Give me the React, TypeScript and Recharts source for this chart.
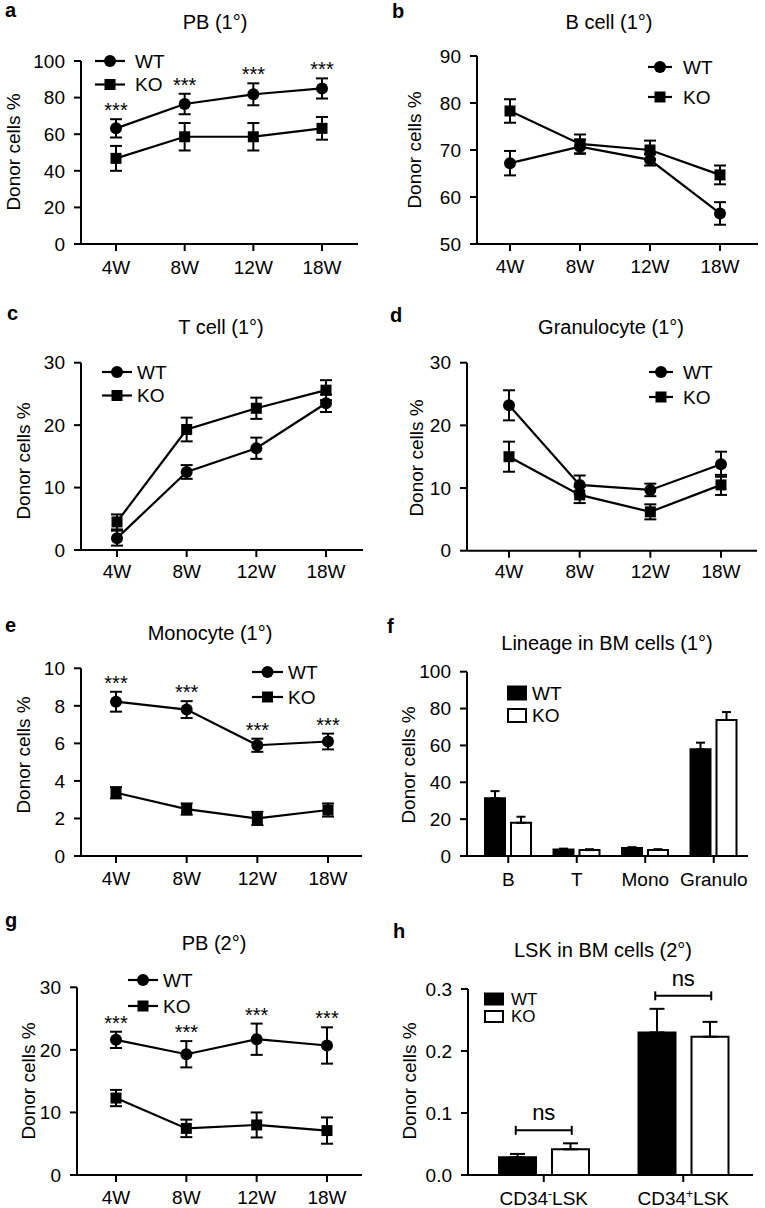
import React from 'react';
import { ComposedChart, Line, Bar, XAxis, YAxis, ErrorBar, Legend } from 'recharts';

const FONT = '"Liberation Sans", Arial, Helvetica, sans-serif';
const INK = '#000';

// ---------------- data ----------------
const groups = ['WT', 'KO'];
const weeks = ['4W', '8W', '12W', '18W'];

const pb1WT = [63.2, 76.5, 81.8, 85.0];
const pb1WTErr = [5.0, 5.6, 6.0, 5.5];
const pb1KO = [46.8, 58.6, 58.6, 63.2];
const pb1KOErr = [6.8, 7.5, 7.5, 6.2];
const pb1Sig = ['***', '***', '***', '***'];

const bcellWT = [67.2, 70.7, 67.9, 56.5];
const bcellWTErr = [2.6, 1.5, 1.2, 2.4];
const bcellKO = [78.3, 71.3, 70.0, 64.7];
const bcellKOErr = [2.5, 2.0, 2.0, 2.0];

const tcellWT = [1.9, 12.5, 16.3, 23.5];
const tcellWTErr = [1.2, 1.1, 1.7, 1.4];
const tcellKO = [4.5, 19.3, 22.7, 25.6];
const tcellKOErr = [1.2, 1.9, 1.7, 1.6];

const granWT = [23.2, 10.5, 9.7, 13.8];
const granWTErr = [2.4, 1.5, 1.0, 2.0];
const granKO = [15.0, 8.9, 6.2, 10.5];
const granKOErr = [2.4, 1.3, 1.2, 1.6];

const monoWT = [8.22, 7.8, 5.9, 6.1];
const monoWTErr = [0.53, 0.45, 0.35, 0.42];
const monoKO = [3.37, 2.5, 2.0, 2.45];
const monoKOErr = [0.3, 0.3, 0.35, 0.35];
const monoSig = ['***', '***', '***', '***'];

const lineages = ['B', 'T', 'Mono', 'Granulo'];
const bmWT = [31.3, 3.5, 4.3, 57.9];
const bmWTErr = [3.9, 0.5, 0.5, 3.6];
const bmKO = [18.0, 3.2, 3.3, 73.8];
const bmKOErr = [3.3, 0.5, 0.4, 4.3];

const pb2WT = [21.6, 19.3, 21.7, 20.7];
const pb2WTErr = [1.3, 2.1, 2.5, 2.9];
const pb2KO = [12.3, 7.45, 8.0, 7.1];
const pb2KOErr = [1.3, 1.4, 2.0, 2.1];
const pb2Sig = ['***', '***', '***', '***'];

const lskTypes = ['CD34-LSK', 'CD34+LSK'];
const lskWT = [0.0285, 0.23];
const lskWTErr = [0.0055, 0.038];
const lskKO = [0.0414, 0.223];
const lskKOErr = [0.0097, 0.024];
const lskSig = ['ns', 'ns'];

const yTicks100 = [0, 20, 40, 60, 80, 100];
const yTicksB = [50, 60, 70, 80, 90];
const yTicks30 = [0, 10, 20, 30];
const yTicks10 = [0, 2, 4, 6, 8, 10];
const yTicksLsk = [0, 0.1, 0.2, 0.3];

const yLabelText = 'Donor cells %';
const titles = [
  { text: 'PB (1°)', x: 215, y: 29 },
  { text: 'B cell (1°)', x: 609, y: 29 },
  { text: 'T cell (1°)', x: 221, y: 334 },
  { text: 'Granulocyte (1°)', x: 611, y: 334 },
  { text: 'Monocyte (1°)', x: 210, y: 640 },
  { text: 'Lineage in BM cells (1°)', x: 607, y: 650 },
  { text: 'PB (2°)', x: 214, y: 950 },
  { text: 'LSK in BM cells (2°)', x: 603, y: 957 },
];
const letters = [
  { text: 'a', x: 5, y: 17 },
  { text: 'b', x: 392, y: 18 },
  { text: 'c', x: 7, y: 320 },
  { text: 'd', x: 390, y: 322 },
  { text: 'e', x: 5, y: 632 },
  { text: 'f', x: 387, y: 633 },
  { text: 'g', x: 5, y: 927 },
  { text: 'h', x: 393, y: 938 },
];
const yLabels = [
  { x: 20, y: 152 },
  { x: 421, y: 150 },
  { x: 30, y: 461 },
  { x: 423, y: 458 },
  { x: 30, y: 755 },
  { x: 415, y: 765 },
  { x: 35, y: 1081 },
  { x: 416, y: 1081 },
];

// ---------------- rows ----------------
function lineRows(cats: string[], wt: number[], wtErr: number[], ko: number[], koErr: number[], sig?: string[]) {
  return cats.map((cat, i) => ({
    cat,
    wt: wt[i],
    wtErr: wtErr[i],
    ko: ko[i],
    koErr: koErr[i],
    sig: sig ? sig[i] : null,
    sigY: sig && sig[i] ? wt[i] + wtErr[i] : null,
  }));
}
function barRows(cats: string[], wt: number[], wtErr: number[], ko: number[], koErr: number[], sig?: string[]) {
  return cats.map((cat, i) => ({
    cat,
    wt: wt[i],
    ko: ko[i],
    wtErrUp: [0, wtErr[i]],
    koErrUp: [0, koErr[i]],
    sig: sig ? sig[i] : null,
    sigY: sig && sig[i] ? Math.max(wt[i] + wtErr[i], ko[i] + koErr[i]) : null,
  }));
}

// ---------------- layout ----------------
const Y_W = 50;
const X_H = 30;
const axisStyle = { stroke: INK, strokeWidth: 2 };
const tickStyle = { fill: INK, fontSize: 19, fontFamily: FONT };

const cfgA = { cell: { x: 0, y: 0, w: 380, h: 298 }, plot: { x0: 81, x1: 358, yTop: 61, yBot: 244 }, pad: { left: 35, right: 36 }, domain: [0, 100], ticks: yTicks100, xTickMargin: 10, legend: { x: 95, y: 61, rowGap: 23.5, lineLen: 30, textX: 40, fontSize: 19 } };
const cfgB = { cell: { x: 380, y: 0, w: 385, h: 298 }, plot: { x0: 477, x1: 758, yTop: 56, yBot: 244 }, pad: { left: 33, right: 38 }, domain: [50, 90], ticks: yTicksB, xTickMargin: 9, legend: { x: 648, y: 67, rowGap: 30, lineLen: 24, textX: 35, fontSize: 19 } };
const cfgC = { cell: { x: 0, y: 298, w: 380, h: 300 }, plot: { x0: 81, x1: 363, yTop: 362.7, yBot: 550 }, pad: { left: 36, right: 37 }, domain: [0, 30], ticks: yTicks30, xTickMargin: 8, legend: { x: 102, y: 372, rowGap: 23.5, lineLen: 30, textX: 35, fontSize: 19 } };
const cfgD = { cell: { x: 380, y: 298, w: 385, h: 300 }, plot: { x0: 467, x1: 757, yTop: 362.7, yBot: 550.7 }, pad: { left: 42, right: 36 }, domain: [0, 30], ticks: yTicks30, xTickMargin: 7, legend: { x: 649, y: 372, rowGap: 25, lineLen: 24, textX: 34, fontSize: 19 } };
const cfgE = { cell: { x: 0, y: 598, w: 380, h: 300 }, plot: { x0: 81, x1: 362, yTop: 668.3, yBot: 856 }, pad: { left: 35, right: 34 }, domain: [0, 10], ticks: yTicks10, xTickMargin: 9, legend: { x: 252, y: 672, rowGap: 25, lineLen: 31, textX: 36, fontSize: 19 } };
const cfgF = { cell: { x: 380, y: 598, w: 385, h: 300 }, plot: { x0: 467, x1: 748, yTop: 671.7, yBot: 856 }, pad: { left: 7, right: 0 }, domain: [0, 100], ticks: yTicks100, xTickMargin: 10, barSize: 20, barGap: 6, cap: 4.5, legend: { x: 507, y: 692.5, rowGap: 22.5, boxW: 20, boxH: 13, textX: 25, fontSize: 19 } };
const cfgG = { cell: { x: 0, y: 898, w: 380, h: 310 }, plot: { x0: 77, x1: 362, yTop: 987.3, yBot: 1175 }, pad: { left: 39, right: 35 }, domain: [0, 30], ticks: yTicks30, xTickMargin: 9, legend: { x: 128, y: 980, rowGap: 26, lineLen: 30, textX: 35, fontSize: 19 } };
const cfgH = { cell: { x: 380, y: 898, w: 385, h: 310 }, plot: { x0: 468, x1: 753, yTop: 989, yBot: 1175 }, pad: { left: 6, right: 0 }, domain: [0, 0.3], ticks: yTicksLsk, xTickMargin: 10, barSize: 37, barGap: 16, cap: 7.5, legend: { x: 484, y: 999, rowGap: 17.5, boxW: 20, boxH: 11, textX: 27, fontSize: 17 } };

function marginOf(cfg: any) {
  const { cell, plot } = cfg;
  return {
    top: plot.yTop - cell.y,
    left: plot.x0 - cell.x - Y_W,
    right: cell.x + cell.w - plot.x1,
    bottom: cell.y + cell.h - plot.yBot - X_H,
  };
}

function orderItems(payload: any[]) {
  return (payload || [])
    .filter((e: any) => e.type !== 'none' && groups.indexOf(String(e.value)) >= 0)
    .sort((a: any, b: any) => groups.indexOf(String(a.value)) - groups.indexOf(String(b.value)));
}

// ---------------- marks ----------------
const SquareDot = (p: any) => {
  const { cx, cy, index } = p;
  if (cx == null || cy == null) return <g key={`sq-${index}`} />;
  return <rect key={`sq-${index}`} x={cx - 5.5} y={cy - 5.5} width={11} height={11} fill={INK} />;
};

const StarDot = (p: any) => {
  const { cx, cy, index, payload } = p;
  if (cx == null || cy == null || !payload || !payload.sig) return <g key={`st-${index}`} />;
  return (
    <text key={`st-${index}`} x={cx} y={cy - 2} textAnchor="middle" fontSize={20} fontFamily={FONT} fill={INK}>
      {payload.sig}
    </text>
  );
};

const BracketDot = (p: any) => {
  const { cx, cy, index, payload } = p;
  if (cx == null || cy == null || !payload || !payload.sig) return <g key={`br-${index}`} />;
  const yb = cy - 13;
  const half = 28;
  return (
    <g key={`br-${index}`}>
      <line x1={cx - half} x2={cx + half} y1={yb} y2={yb} stroke={INK} strokeWidth={2} />
      <line x1={cx - half} x2={cx - half} y1={yb - 4.5} y2={yb + 4.5} stroke={INK} strokeWidth={2} />
      <line x1={cx + half} x2={cx + half} y1={yb - 4.5} y2={yb + 4.5} stroke={INK} strokeWidth={2} />
      <text x={cx} y={yb - 10} textAnchor="middle" fontSize={22} fontFamily={FONT} fill={INK}>
        {payload.sig}
      </text>
    </g>
  );
};

const LskTick = (p: any) => {
  const { x, y, payload } = p;
  const v: string = String(payload.value);
  const sign = v.charAt(4);
  return (
    <text x={x} y={y} textAnchor="middle" fontSize={19} fontFamily={FONT} fill={INK}>
      <tspan dy="0.71em">CD34</tspan>
      <tspan dy={-7} fontSize={12}>{sign}</tspan>
      <tspan dy={7}>LSK</tspan>
    </text>
  );
};

// ---------------- legends ----------------
function LineLegend({ payload, cfg }: any) {
  const items = orderItems(payload);
  return (
    <svg width={130} height={70} style={{ display: 'block', overflow: 'visible' }}>
      {items.map((e: any, i: number) => {
        const cy = 12 + i * cfg.rowGap;
        const mx = cfg.lineLen / 2;
        return (
          <g key={String(e.value)}>
            <line x1={0} x2={cfg.lineLen} y1={cy} y2={cy} stroke={INK} strokeWidth={2.2} />
            {e.type === 'square' ? (
              <rect x={mx - 5.5} y={cy - 5.5} width={11} height={11} fill={INK} />
            ) : (
              <circle cx={mx} cy={cy} r={6} fill={INK} />
            )}
            <text x={cfg.textX} y={cy} dominantBaseline="central" fontSize={cfg.fontSize} fontFamily={FONT} fill={INK}>
              {e.value}
            </text>
          </g>
        );
      })}
    </svg>
  );
}

function BarLegend({ payload, cfg }: any) {
  const items = orderItems(payload);
  return (
    <svg width={130} height={60} style={{ display: 'block', overflow: 'visible' }}>
      {items.map((e: any, i: number) => {
        const cy = 12 + i * cfg.rowGap;
        return (
          <g key={String(e.value)}>
            <rect x={1} y={cy - cfg.boxH / 2} width={cfg.boxW - 2} height={cfg.boxH} fill={e.color} stroke={INK} strokeWidth={2} />
            <text x={cfg.textX} y={cy} dominantBaseline="central" fontSize={cfg.fontSize} fontFamily={FONT} fill={INK}>
              {e.value}
            </text>
          </g>
        );
      })}
    </svg>
  );
}

// ---------------- panels ----------------
function LinePanel({ cfg, data }: any) {
  const { cell, pad, domain, ticks, xTickMargin, legend } = cfg;
  const hasSig = data.some((d: any) => d.sig);
  return (
    <div style={{ position: 'absolute', left: cell.x, top: cell.y, width: cell.w, height: cell.h }}>
      <ComposedChart width={cell.w} height={cell.h} data={data} margin={marginOf(cfg)}>
        <XAxis dataKey="cat" scale="point" padding={pad} height={X_H} tickSize={7} tickMargin={xTickMargin} axisLine={axisStyle} tickLine={axisStyle} tick={tickStyle} interval={0} />
        <YAxis type="number" width={Y_W} domain={domain} ticks={ticks} tickSize={7} tickMargin={9} axisLine={axisStyle} tickLine={axisStyle} tick={tickStyle} interval={0} />
        <Legend
          layout="vertical"
          align="center"
          verticalAlign="middle"
          wrapperStyle={{ left: legend.x - cell.x, top: legend.y - cell.y - 12, width: 130, height: 70, margin: 0 }}
          content={(p: any) => <LineLegend payload={p.payload} cfg={legend} />}
        />
        <Line dataKey="wt" name="WT" legendType="circle" stroke={INK} strokeWidth={2.2} dot={{ r: 6, fill: INK, stroke: 'none' }} activeDot={false} isAnimationActive={false}>
          <ErrorBar dataKey="wtErr" direction="y" width={6} stroke={INK} strokeWidth={2} />
        </Line>
        <Line dataKey="ko" name="KO" legendType="square" stroke={INK} strokeWidth={2.2} dot={SquareDot} activeDot={false} isAnimationActive={false}>
          <ErrorBar dataKey="koErr" direction="y" width={6} stroke={INK} strokeWidth={2} />
        </Line>
        {hasSig && (
          <Line dataKey="sigY" name="sig" legendType="none" stroke="none" dot={StarDot} activeDot={false} isAnimationActive={false} />
        )}
      </ComposedChart>
    </div>
  );
}

function BarPanel({ cfg, data, tickComp, tickFmt }: any) {
  const { cell, pad, domain, ticks, xTickMargin, legend } = cfg;
  const hasSig = data.some((d: any) => d.sig);
  return (
    <div style={{ position: 'absolute', left: cell.x, top: cell.y, width: cell.w, height: cell.h }}>
      <ComposedChart width={cell.w} height={cell.h} data={data} margin={marginOf(cfg)} barSize={cfg.barSize} barGap={cfg.barGap}>
        <XAxis dataKey="cat" scale="band" padding={pad} height={X_H} tickSize={7} tickMargin={xTickMargin} axisLine={axisStyle} tickLine={axisStyle} tick={tickComp || tickStyle} interval={0} />
        <YAxis type="number" width={Y_W} domain={domain} ticks={ticks} tickSize={7} tickMargin={9} axisLine={axisStyle} tickLine={axisStyle} tick={tickStyle} tickFormatter={tickFmt} interval={0} />
        <Legend
          layout="vertical"
          align="center"
          verticalAlign="middle"
          wrapperStyle={{ left: legend.x - cell.x, top: legend.y - cell.y - 12, width: 130, height: 60, margin: 0 }}
          content={(p: any) => <BarLegend payload={p.payload} cfg={legend} />}
        />
        <Bar dataKey="wt" name="WT" legendType="square" fill={INK} stroke={INK} strokeWidth={2} isAnimationActive={false}>
          <ErrorBar dataKey="wtErrUp" direction="y" width={cfg.cap} stroke={INK} strokeWidth={2} />
        </Bar>
        <Bar dataKey="ko" name="KO" legendType="square" fill="#fff" stroke={INK} strokeWidth={2} isAnimationActive={false}>
          <ErrorBar dataKey="koErrUp" direction="y" width={cfg.cap} stroke={INK} strokeWidth={2} />
        </Bar>
        {hasSig && (
          <Line dataKey="sigY" name="sig" legendType="none" stroke="none" dot={BracketDot} activeDot={false} isAnimationActive={false} />
        )}
      </ComposedChart>
    </div>
  );
}

const dataA = lineRows(weeks, pb1WT, pb1WTErr, pb1KO, pb1KOErr, pb1Sig);
const dataB = lineRows(weeks, bcellWT, bcellWTErr, bcellKO, bcellKOErr);
const dataC = lineRows(weeks, tcellWT, tcellWTErr, tcellKO, tcellKOErr);
const dataD = lineRows(weeks, granWT, granWTErr, granKO, granKOErr);
const dataE = lineRows(weeks, monoWT, monoWTErr, monoKO, monoKOErr, monoSig);
const dataF = barRows(lineages, bmWT, bmWTErr, bmKO, bmKOErr);
const dataG = lineRows(weeks, pb2WT, pb2WTErr, pb2KO, pb2KOErr, pb2Sig);
const dataH = barRows(lskTypes, lskWT, lskWTErr, lskKO, lskKOErr, lskSig);

export default function App() {
  return (
    <div style={{ position: 'absolute', left: 0, top: 0, width: 765, height: 1208, background: '#fff', overflow: 'hidden' }}>
      <LinePanel cfg={cfgA} data={dataA} />
      <LinePanel cfg={cfgB} data={dataB} />
      <LinePanel cfg={cfgC} data={dataC} />
      <LinePanel cfg={cfgD} data={dataD} />
      <LinePanel cfg={cfgE} data={dataE} />
      <BarPanel cfg={cfgF} data={dataF} />
      <LinePanel cfg={cfgG} data={dataG} />
      <BarPanel cfg={cfgH} data={dataH} tickComp={<LskTick />} tickFmt={(v: number) => v.toFixed(1)} />
      <svg width={765} height={1208} style={{ position: 'absolute', left: 0, top: 0, pointerEvents: 'none' }}>
        {titles.map((t) => (
          <text key={t.text} x={t.x} y={t.y} textAnchor="middle" fontSize={20} fontFamily={FONT} fill={INK}>
            {t.text}
          </text>
        ))}
        {letters.map((t) => (
          <text key={t.text} x={t.x} y={t.y} fontSize={20} fontWeight="bold" fontFamily={FONT} fill={INK}>
            {t.text}
          </text>
        ))}
        {yLabels.map((t, i) => (
          <text key={`yl-${i}`} x={t.x} y={t.y} transform={`rotate(-90 ${t.x} ${t.y})`} textAnchor="middle" fontSize={19} fontFamily={FONT} fill={INK}>
            {yLabelText}
          </text>
        ))}
      </svg>
    </div>
  );
}
